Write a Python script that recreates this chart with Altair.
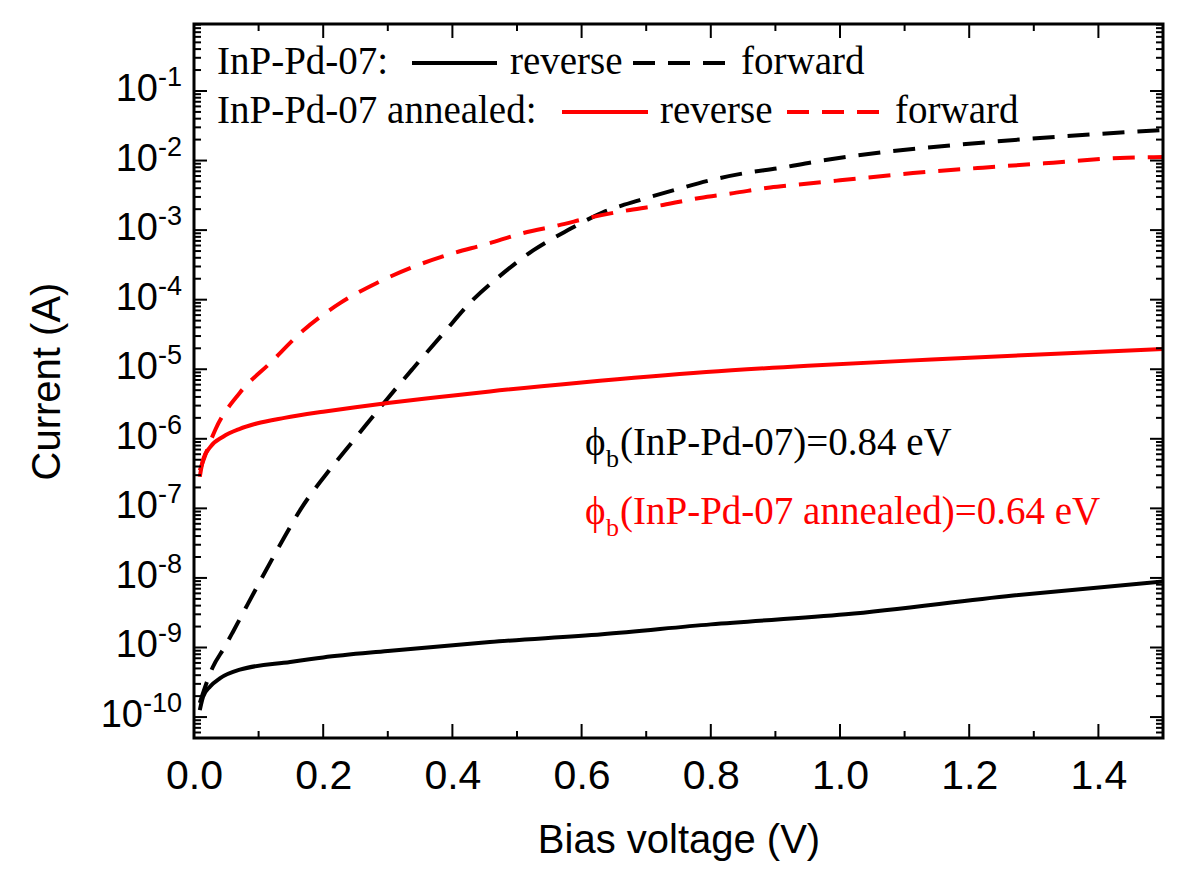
import altair as alt
import pandas as pd

# ---------------- data ----------------
rev_black_V = [0.009, 0.014, 0.025, 0.040, 0.071, 0.149, 0.2, 0.3, 0.458, 0.632, 0.8, 1.009, 1.268, 1.5]
rev_black_I = [1.26e-10, 1.95e-10, 2.75e-10, 3.6e-10, 4.8e-10, 6.2e-10, 7.2e-10, 8.9e-10,
               1.2e-9, 1.55e-9, 2.15e-9, 3.0e-9, 5.6e-9, 8.9e-9]

fwd_black_V = [0.009, 0.029, 0.047, 0.060, 0.080, 0.105, 0.135, 0.166, 0.207, 0.249, 0.293, 0.338,
               0.385, 0.432, 0.471, 0.525, 0.579, 0.633, 0.690, 0.745, 0.799, 0.853, 0.907, 0.958,
               1.067, 1.175, 1.289, 1.398, 1.5]
fwd_black_I = [1.6e-10, 5.2e-10, 1.0e-9, 1.66e-9, 3.7e-9, 1.0e-8, 3.2e-8, 1.0e-7, 3.3e-7, 1.0e-6,
               3.2e-6, 1.0e-5, 3.2e-5, 1.0e-4, 2.1e-4, 5.1e-4, 1.0e-3, 1.8e-3, 2.7e-3, 3.8e-3,
               5.2e-3, 6.6e-3, 7.8e-3, 9.5e-3, 1.32e-2, 1.66e-2, 2.04e-2, 2.4e-2, 2.75e-2]

rev_red_V = [0.009, 0.014, 0.025, 0.045, 0.07, 0.097, 0.14, 0.2, 0.25, 0.303, 0.38, 0.458, 0.6,
             0.793, 0.95, 1.142, 1.3, 1.5]
rev_red_I = [2.85e-7, 5.0e-7, 7.6e-7, 1.07e-6, 1.38e-6, 1.66e-6, 2.0e-6, 2.45e-6, 2.85e-6, 3.3e-6,
             3.98e-6, 4.8e-6, 6.45e-6, 9.1e-6, 1.12e-5, 1.38e-5, 1.62e-5, 1.95e-5]

fwd_red_V = [0.009, 0.033, 0.071, 0.118, 0.169, 0.226, 0.283, 0.339, 0.396, 0.453, 0.51, 0.564,
             0.618, 0.675, 0.726, 0.783, 0.835, 0.892, 0.933, 1.0, 1.113, 1.221, 1.33, 1.444, 1.5]
fwd_red_I = [3.5e-7, 1.35e-6, 4.6e-6, 1.23e-5, 3.6e-5, 8.9e-5, 1.74e-4, 2.95e-4, 4.5e-4, 6.3e-4,
             9.1e-4, 1.17e-3, 1.55e-3, 1.95e-3, 2.3e-3, 2.9e-3, 3.4e-3, 4.1e-3, 4.5e-3, 5.2e-3,
             6.6e-3, 7.9e-3, 9.3e-3, 1.1e-2, 1.12e-2]

x_major = [0.0, 0.2, 0.4, 0.6, 0.8, 1.0, 1.2, 1.4]
x_minor = [0.1, 0.3, 0.5, 0.7, 0.9, 1.1, 1.3]
y_major = [1e-10, 1e-9, 1e-8, 1e-7, 1e-6, 1e-5, 1e-4, 1e-3, 1e-2, 1e-1]
y_exp = ["-10", "-9", "-8", "-7", "-6", "-5", "-4", "-3", "-2", "-1"]
y_minor = [m * d for d in [1e-11] + y_major for m in range(2, 10)]

X_DOM = [0.0, 1.5]
Y_DOM = [5.0e-11, 0.918]
W, H = 969, 714
RED = "#ff0000"
SERIF = "Liberation Serif"
SANS = "Liberation Sans"

xs = alt.Scale(domain=X_DOM, nice=False, zero=False)
ys = alt.Scale(type="log", domain=Y_DOM, nice=False)
y_minor = [v for v in y_minor if Y_DOM[0] <= v <= Y_DOM[1]]

XA = alt.Axis(values=x_major, format=".1f", labelFont=SANS, labelFontSize=41,
              labelPadding=18, labelFlush=False, labelOverlap=False, ticks=False,
              domain=False, grid=False, labelColor="black",
              title="Bias voltage (V)", titleFont=SANS, titleFontSize=40,
              titleFontWeight="normal", titleColor="black", titleX=W / 2, titleY=102,
              titleAlign="center", titleBaseline="middle")
YA = alt.Axis(labels=False, ticks=False, domain=False, grid=False,
              title="Current (A)", titleFont=SANS, titleFontSize=40,
              titleFontWeight="normal", titleColor="black", titleX=-147, titleY=H / 2,
              titleAngle=270, titleAlign="center", titleBaseline="middle")


def X(f):
    return alt.X(f, scale=xs, axis=XA)


def Y(f):
    return alt.Y(f, scale=ys, axis=YA)


def curve(V, I, color, dash):
    df = pd.DataFrame({"V": V, "I": I})
    props = dict(color=color, strokeWidth=4, interpolate="monotone", clip=True)
    if dash:
        props["strokeDash"] = [22, 13]
    return alt.Chart(df).mark_line(**props).encode(x=X("V:Q"), y=Y("I:Q"))


layers = [
    curve(rev_black_V, rev_black_I, "black", False),
    curve(fwd_black_V, fwd_black_I, "black", True),
    curve(rev_red_V, rev_red_I, RED, False),
    curve(fwd_red_V, fwd_red_I, RED, True),
]

# ---------------- frame ----------------
layers.append(alt.Chart(pd.DataFrame({"a": [0]})).mark_rect(
    filled=False, stroke="black", strokeWidth=3).encode(
    x=alt.value(0), x2=alt.value(W), y=alt.value(0), y2=alt.value(H)))


# ---------------- inside ticks on all four sides ----------------
def yticks(vals, length):
    df = pd.DataFrame({"t": vals})
    left = alt.Chart(df).mark_rule(color="black", strokeWidth=2).encode(
        y=Y("t:Q"), x=alt.value(0), x2=alt.value(length))
    right = alt.Chart(df).mark_rule(color="black", strokeWidth=2).encode(
        y=Y("t:Q"), x=alt.value(W), x2=alt.value(W - length))
    return [left, right]


def xticks(vals, length):
    df = pd.DataFrame({"t": vals})
    bot = alt.Chart(df).mark_rule(color="black", strokeWidth=2).encode(
        x=X("t:Q"), y=alt.value(H), y2=alt.value(H - length))
    top = alt.Chart(df).mark_rule(color="black", strokeWidth=2).encode(
        x=X("t:Q"), y=alt.value(0), y2=alt.value(length))
    return [bot, top]


layers += yticks(y_major, 13) + yticks(y_minor, 7)
layers += xticks(x_major, 14) + xticks(x_minor, 7)

# ---------------- y tick labels 10^n ----------------
ylab = pd.DataFrame({"v": y_major, "e": y_exp})
for cond, bx in [("length(datum.e) == 2", -36), ("length(datum.e) == 3", -51)]:
    base = alt.Chart(ylab).transform_filter(cond)
    layers.append(base.mark_text(font=SANS, fontSize=38, align="right", baseline="middle",
                                 dy=-1, color="black").encode(
        y=Y("v:Q"), x=alt.value(bx), text=alt.value("10")))
    layers.append(base.mark_text(font=SANS, fontSize=27, align="left", baseline="middle",
                                 dy=-13, color="black").encode(
        y=Y("v:Q"), x=alt.value(bx), text="e:N"))


# ---------------- legend (drawn inside the frame) ----------------
def txt(s, x, y, color="black", size=39, font=SERIF):
    return alt.Chart(pd.DataFrame({"a": [0]})).mark_text(
        text=s, font=font, fontSize=size, align="left", baseline="alphabetic", color=color
    ).encode(x=alt.value(x), y=alt.value(y))


def seg(x1, x2, y, color, dash):
    props = dict(color=color, strokeWidth=4)
    if dash:
        props["strokeDash"] = [22, 13]
    return alt.Chart(pd.DataFrame({"a": [0]})).mark_rule(**props).encode(
        x=alt.value(x1), x2=alt.value(x2), y=alt.value(y))


layers += [
    txt("InP-Pd-07:", 23, 50),
    seg(218, 303, 39, "black", False),
    txt("reverse", 316, 50),
    seg(439, 533, 39, "black", True),
    txt("forward", 547, 50),
    txt("InP-Pd-07 annealed:", 23, 99),
    seg(368, 454, 88, RED, False),
    txt("reverse", 466, 99),
    seg(593, 688, 88, RED, True),
    txt("forward", 701, 99),
    # barrier height annotations
    txt("\u03d5", 391, 431),
    txt("b", 412, 443, size=26),
    txt("(InP-Pd-07)=0.84 eV", 426, 431),
    txt("\u03d5", 391, 500, color=RED),
    txt("b", 412, 512, color=RED, size=26),
    txt("(InP-Pd-07 annealed)=0.64 eV", 426, 500, color=RED),
]

chart = alt.layer(*layers).properties(
    width=W, height=H,
    autosize=alt.AutoSizeParams(type="none"),
    padding={"left": 186, "top": 16, "right": 29, "bottom": 143},
).configure(background="white").configure_view(stroke=None)

chart.save("out.html", embed_options={"renderer": "svg", "actions": False})
